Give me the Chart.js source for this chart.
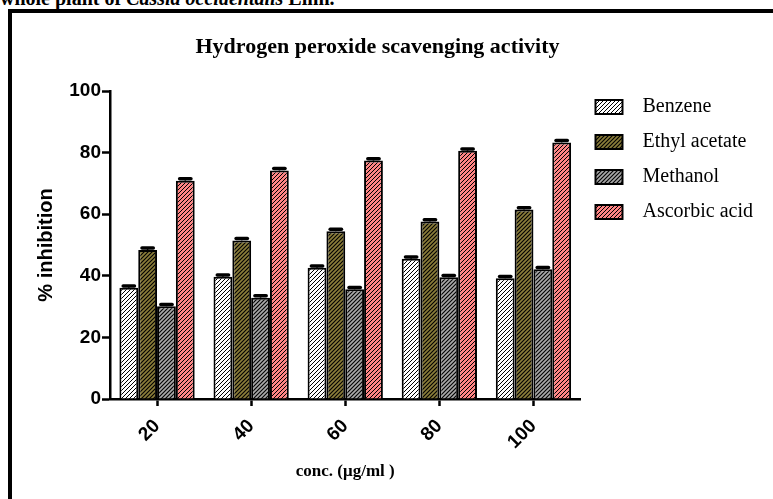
<!DOCTYPE html>
<html lang="en">
<head>
    <meta charset="UTF-8">
    <title>Hydrogen peroxide scavenging activity</title>
    <script src="https://cdn.jsdelivr.net/npm/chart.js@4.4.1/dist/chart.umd.min.js"></script>
    <style>
        body { margin: 0; background: #fff; overflow: hidden; }
        #caption {
            position: absolute; left: 0; top: -13px; white-space: nowrap;
            font: bold 20px "Liberation Serif", serif; color: #000;
        }
        #frame {
            position: absolute; left: 8px; top: 9px; width: 900px; height: 600px;
            border-left: 4px solid #000; border-top: 4px solid #000;
        }
        #graph { position: absolute; left: 0; top: 0; }
    </style>
</head>
<body>
    <div id="caption">whole plant of <i>Cassia occidentalis</i> Linn.</div>
    <div id="frame"></div>
    <canvas id="graph" width="773" height="499"></canvas>
    <script>
        // concentrations (µg/ml)
        const concs = ["20", "40", "60", "80", "100"];
        // % inhibition per extract
        const benzene = [36.1, 39.7, 42.6, 45.5, 39.2];
        const ethylAcetate = [48.4, 51.5, 54.5, 57.6, 61.5];
        const methanol = [30.1, 32.9, 35.6, 39.5, 42.1];
        const ascorbicAcid = [70.9, 74.2, 77.4, 80.6, 83.3];
        // standard errors
        const benzeneErr = [0.6, 0.6, 0.6, 0.6, 0.6];
        const ethylErr = [0.6, 0.6, 0.6, 0.6, 0.6];
        const methanolErr = [0.6, 0.6, 0.6, 0.6, 0.6];
        const ascorbicErr = [0.6, 0.6, 0.6, 0.6, 0.6];

        const canvas = document.getElementById("graph");
        const ctx = canvas.getContext("2d");

        // diagonal hatch fill over a base colour
        function hatch(base, width) {
            const tile = document.createElement("canvas");
            tile.width = 4;
            tile.height = 4;
            const g = tile.getContext("2d");
            g.fillStyle = base;
            g.fillRect(0, 0, 4, 4);
            g.strokeStyle = "#000";
            g.lineWidth = width;
            g.beginPath();
            g.moveTo(0, 4); g.lineTo(4, 0);
            g.moveTo(-1, 1); g.lineTo(1, -1);
            g.moveTo(3, 5); g.lineTo(5, 3);
            g.stroke();
            return ctx.createPattern(tile, "repeat");
        }

        const serif = "'Liberation Serif', 'Times New Roman', serif";
        const sans = "'Liberation Sans', Arial, sans-serif";

        // title text over the plot
        const chartTitle = {
            id: "chartTitle",
            afterDraw(chart) {
                const c = chart.ctx;
                const x = (chart.legend.right + 12) / 2 - 10;
                c.save();
                c.font = "bold 22px " + serif;
                c.fillStyle = "#000";
                c.textAlign = "center";
                c.textBaseline = "middle";
                c.fillText("Hydrogen peroxide scavenging activity", x, chart.chartArea.top - 44);
                c.restore();
            }
        };

        // SEM whiskers with a heavy cap
        const errorCaps = {
            id: "errorCaps",
            afterDatasetsDraw(chart) {
                const c = chart.ctx;
                const y = chart.scales.y;
                chart.data.datasets.forEach((ds, i) => {
                    chart.getDatasetMeta(i).data.forEach((bar, j) => {
                        const top = y.getPixelForValue(ds.data[j] + ds.errors[j]);
                        const half = bar.width * 0.3;
                        c.save();
                        c.strokeStyle = "#000";
                        c.lineWidth = 1.5;
                        c.beginPath();
                        c.moveTo(bar.x, bar.y);
                        c.lineTo(bar.x, top);
                        c.stroke();
                        c.lineWidth = 3.5;
                        c.lineCap = "round";
                        c.beginPath();
                        c.moveTo(bar.x - half, top);
                        c.lineTo(bar.x + half, top);
                        c.stroke();
                        c.restore();
                    });
                });
            }
        };

        function series(label, data, errors, fill) {
            return {
                label: label,
                data: data,
                errors: errors,
                backgroundColor: fill,
                borderColor: "#000",
                borderWidth: 2,
                barPercentage: 1.0,
                categoryPercentage: 0.8
            };
        }

        new Chart(canvas, {
            type: "bar",
            data: {
                labels: concs,
                datasets: [
                    series("  Benzene", benzene, benzeneErr, hatch("#ffffff", 1.0)),
                    series("  Ethyl acetate", ethylAcetate, ethylErr, hatch("#8a7d3a", 1.1)),
                    series("  Methanol", methanol, methanolErr, hatch("#a8a8a8", 1.1)),
                    series("  Ascorbic acid", ascorbicAcid, ascorbicErr, hatch("#ff8484", 1.0))
                ]
            },
            options: {
                responsive: false,
                animation: false,
                layout: { padding: { left: 12, top: 82, right: 10, bottom: 0 } },
                plugins: {
                    tooltip: { enabled: false },
                    legend: {
                        position: "right",
                        align: "start",
                        labels: {
                            color: "#000",
                            font: { family: serif, size: 20 },
                            boxWidth: 27,
                            boxHeight: 14,
                            padding: 15
                        }
                    }
                },
                scales: {
                    x: {
                        afterFit: (scale) => { scale.height = 100; },
                        grid: {
                            offset: false,
                            drawOnChartArea: false,
                            tickLength: 7,
                            tickWidth: 2.5,
                            tickColor: "#000"
                        },
                        border: { color: "#000", width: 2.5 },
                        ticks: {
                            color: "#000",
                            font: { family: sans, size: 19, weight: "bold" },
                            minRotation: 45,
                            maxRotation: 45,
                            autoSkip: false,
                            padding: 9
                        },
                        title: {
                            display: true,
                            text: "conc. (μg/ml )",
                            color: "#000",
                            font: { family: serif, size: 17, weight: "bold" },
                            padding: { top: 0, bottom: 17 }
                        }
                    },
                    y: {
                        min: 0,
                        max: 100,
                        // keep the plot top below the legend start
                        afterFit: (scale) => { scale.width = 98; scale.paddingTop = 91; },
                        grid: {
                            drawOnChartArea: false,
                            tickLength: 8,
                            tickWidth: 2.5,
                            tickColor: "#000"
                        },
                        border: { color: "#000", width: 2.5 },
                        ticks: {
                            stepSize: 20,
                            color: "#000",
                            font: { family: sans, size: 19, weight: "bold" },
                            padding: 1
                        },
                        title: {
                            display: true,
                            text: "% inhibition",
                            color: "#000",
                            font: { family: sans, size: 20, weight: "bold" },
                            padding: { top: 22, bottom: 0 }
                        }
                    }
                }
            },
            plugins: [chartTitle, errorCaps]
        });
    </script>
</body>
</html>
